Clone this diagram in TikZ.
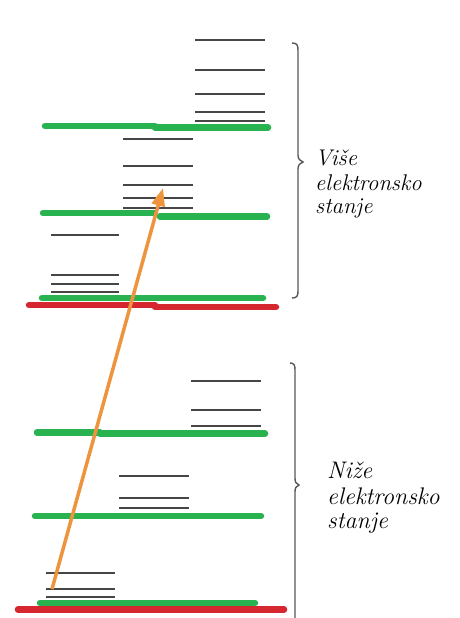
\documentclass[tikz,border=0pt]{standalone}
\usetikzlibrary{arrows.meta}
\definecolor{lvgreen}{RGB}{40,178,80}
\definecolor{lvred}{RGB}{214,38,48}
\definecolor{lvgray}{RGB}{70,70,70}
\definecolor{lvorange}{RGB}{238,148,62}
\begin{document}
\begin{tikzpicture}[x=1pt,y=-1pt,
  sub/.style={draw=lvgray, line width=2.3pt},
  grn/.style={draw=lvgreen, line width=6.5pt, line cap=round},
  rd/.style={draw=lvred, line width=6.5pt, line cap=round},
  brc/.style={draw=black!65, line width=1.4pt},
  arr/.style={draw=lvorange, line width=3.5pt, -{Triangle[length=18pt,width=13pt]}},
  lblA/.style={anchor=base west, inner sep=0pt, font=\fontsize{22.7}{26}\selectfont\itshape, text=black},
  lblB/.style={anchor=base west, inner sep=0pt, font=\fontsize{24}{28}\selectfont\itshape, text=black}]
\useasboundingbox[fill=white] (0,0) rectangle (460,618);

% ---------- upper electronic state ----------
\foreach \y in {40,70,94,112,121} \draw[sub] (195,\y) -- (265,\y);
\foreach \y in {139,166,185,198,208} \draw[sub] (123,\y) -- (193,\y);
\foreach \y in {235,275,284,292} \draw[sub] (51,\y) -- (119,\y);

\draw[rd] (29,305) -- (155,305);
\draw[rd] (155,307) -- (276,307);
\draw[grn] (45,126) -- (155,126);
\draw[grn] (155,127.5) -- (268,127.5);
\draw[grn] (43,213) -- (155,213);
\draw[grn] (160,216.5) -- (267,216.5);
\draw[grn] (42,298) -- (263,298);

% ---------- lower electronic state ----------
\foreach \y in {381,410,426} \draw[sub] (191,\y) -- (261,\y);
\foreach \y in {476,498,508} \draw[sub] (119,\y) -- (189,\y);
\foreach \y in {573,589,597} \draw[sub] (46,\y) -- (115,\y);

\draw[rd] (18,609.5) -- (284,609.5);
\draw[grn] (37,432.5) -- (100,432.5);
\draw[grn] (100,433.5) -- (265,433.5);
\draw[grn] (35,516) -- (261,516);
\draw[grn] (40,603) -- (255,603);

% ---------- transition arrow ----------
\coordinate (start) at (52,589);
\coordinate (end) at (163,188);
\draw[arr] (start) -- (end);

% ---------- braces ----------
\draw[brc] (292,43) .. controls (297,43) and (298,45) .. (298,50)
  -- (298,155) .. controls (298,159) and (300,161) .. (303,162)
  .. controls (300,163) and (298,165) .. (298,169)
  -- (298,291) .. controls (298,296) and (297,298) .. (292,298);
\draw[brc] (290,363) .. controls (294,363) and (295,365) .. (295,370)
  -- (295,478) .. controls (295,482) and (296,484) .. (299,485)
  .. controls (296,486) and (295,488) .. (295,492)
  -- (295,620);

% ---------- labels ----------
\node[lblA] (u1) at (315,165) {Više};
\node[lblA] (u2) at (315,190) {elektronsko};
\node[lblA] (u3) at (315,213) {stanje};
\node[lblB] (l1) at (327,478) {Niže};
\node[lblB] (l2) at (327,504) {elektronsko};
\node[lblB] (l3) at (327,528) {stanje};
\end{tikzpicture}
\end{document}
